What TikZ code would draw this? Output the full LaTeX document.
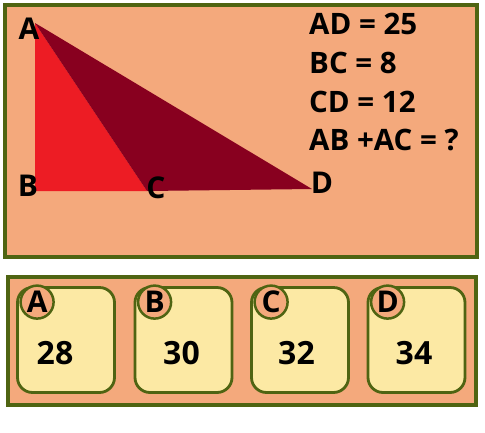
\documentclass[tikz,border=0pt]{standalone}
\usepackage{fontspec}
\setmainfont{Open Sans}
\usetikzlibrary{positioning}
\definecolor{salmon}{HTML}{F4A97C}
\definecolor{olivegreen}{HTML}{4F6412}
\definecolor{brightred}{HTML}{ED1C24}
\definecolor{winered}{HTML}{88001F}
\definecolor{cream}{HTML}{FCE9A4}
\tikzset{
  panel/.style = {draw=olivegreen,line width=3.5pt,fill=salmon},
  choice/.style = {draw=olivegreen,line width=2.8pt,fill=cream,rounded corners=15pt,
    minimum width=97pt,minimum height=105pt,inner sep=0pt},
  tag/.style = {circle,draw=olivegreen,line width=2.5pt,fill=salmon,minimum size=33pt,
    inner sep=0pt,font=\bfseries\fontsize{30}{30}\selectfont},
  vertex/.style = {font=\bfseries\fontsize{30}{30}\selectfont},
  given/.style = {anchor=west,inner sep=0pt,font=\bfseries\fontsize{29.5}{30}\selectfont},
  answer/.style = {font=\bfseries\fontsize{32}{32}\selectfont}
}

\begin{document}
\begin{tikzpicture}[x=1pt,y=-1pt]
  \useasboundingbox (0,0) rectangle (485,432);
  % question panel
  \draw[panel] (5,5) rectangle (477,257);
  \coordinate (A) at (35,23);
  \coordinate (B) at (35,191);
  \coordinate (C) at (147,191);
  \coordinate (D) at (312,189);
  \fill[brightred] (A) -- (B) -- (C) -- cycle;
  \fill[winered] (A) -- (C) -- (D) -- cycle;
  \node[vertex] (lblA) at (29,29) {A};
  \node[vertex] (lblB) at (28,186) {B};
  \node[vertex] (lblC) at (156,188) {C};
  \node[vertex] (lblD) at (322,183) {D};
  \node[given] (q1) at (309,24) {AD = 25};
  \node[given] (q2) at (309,63) {BC = 8};
  \node[given] (q3) at (309,102) {CD = 12};
  \node[given] (q4) at (309,140) {AB +AC = ?};
  % answer panel
  \draw[panel] (8,277) rectangle (476,405);
  \node[choice] (boxA) at (66,340) {};
  \node[choice] (boxB) at (183.5,340) {};
  \node[choice] (boxC) at (300,340) {};
  \node[choice] (boxD) at (416.5,340) {};
  \foreach \k in {A,B,C,D}
    \node[tag] (tag\k) at ([shift={(21pt,-16pt)}]box\k.north west) {\k};
  \node[answer] (numA) at (55,353) {28};
  \node[answer] (numB) at (181.5,353) {30};
  \node[answer] (numC) at (296.5,353) {32};
  \node[answer] (numD) at (414,353) {34};
\end{tikzpicture}
\end{document}
